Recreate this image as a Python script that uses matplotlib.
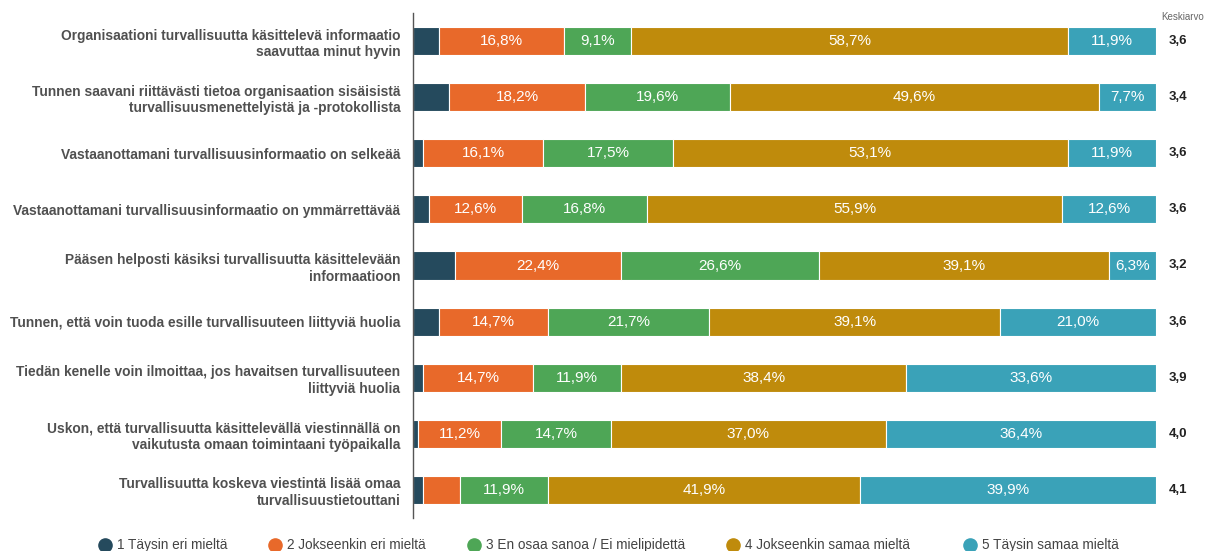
import matplotlib
matplotlib.use("Agg")
import matplotlib.pyplot as plt
from matplotlib.lines import Line2D
import numpy as np

plt.rcParams['font.family'] = ['Liberation Sans', 'DejaVu Sans']

questions = [
    "Organisaationi turvallisuutta käsittelevä informaatio\nsaavuttaa minut hyvin",
    "Tunnen saavani riittävästi tietoa organisaation sisäisistä\nturvallisuusmenettelyistä ja -protokollista",
    "Vastaanottamani turvallisuusinformaatio on selkeää",
    "Vastaanottamani turvallisuusinformaatio on ymmärrettävää",
    "Pääsen helposti käsiksi turvallisuutta käsittelevään\ninformaatioon",
    "Tunnen, että voin tuoda esille turvallisuuteen liittyviä huolia",
    "Tiedän kenelle voin ilmoittaa, jos havaitsen turvallisuuteen\nliittyviä huolia",
    "Uskon, että turvallisuutta käsittelevällä viestinnällä on\nvaikutusta omaan toimintaani työpaikalla",
    "Turvallisuutta koskeva viestintä lisää omaa\nturvallisuustietouttani",
]
categories = ["1 Täysin eri mieltä", "2 Jokseenkin eri mieltä",
              "3 En osaa sanoa / Ei mielipidettä", "4 Jokseenkin samaa mieltä",
              "5 Täysin samaa mieltä"]
s1 = [3.5, 4.9, 1.4, 2.1, 5.6, 3.5, 1.4, 0.7, 1.4]
s2 = [16.8, 18.2, 16.1, 12.6, 22.4, 14.7, 14.7, 11.2, 4.9]
s3 = [9.1, 19.6, 17.5, 16.8, 26.6, 21.7, 11.9, 14.7, 11.9]
s4 = [58.7, 49.6, 53.1, 55.9, 39.1, 39.1, 38.4, 37.0, 41.9]
s5 = [11.9, 7.7, 11.9, 12.6, 6.3, 21.0, 33.6, 36.4, 39.9]
show_label = [[False]*9, [True]*8 + [False], [True]*9, [True]*9, [True]*9]
means = ["3,6", "3,4", "3,6", "3,6", "3,2", "3,6", "3,9", "4,0", "4,1"]

colors = ["#254a5d", "#e8692a", "#4ea656", "#bf8b0c", "#3aa2b8"]

W, H = 1206, 551
fig = plt.figure(figsize=(W/100, H/100), dpi=100)
ax = fig.add_axes([413/W, 1-518/H, (1156-413)/W, (518-13)/H])

series = [s1, s2, s3, s4, s5]
y = np.arange(len(questions))
left = np.zeros(len(questions))
for k, (vals, col) in enumerate(zip(series, colors)):
    vals = np.array(vals)
    ax.barh(y, vals, left=left, height=0.5, color=col, edgecolor='white', linewidth=0.8)
    for i, v in enumerate(vals):
        if show_label[k][i]:
            ax.text(left[i] + v/2, y[i], f"{v:.1f}%".replace('.', ','),
                    ha='center', va='center', color='white', fontsize=11)
    left += vals

ax.set_xlim(0, 100)
ax.set_ylim(8.5, -0.5)
for sp in ['top', 'right', 'bottom']:
    ax.spines[sp].set_visible(False)
ax.spines['left'].set_color('#555555')
ax.spines['left'].set_linewidth(1.0)
ax.set_xticks([])
ax.set_yticks(y)
ax.set_yticklabels(questions, fontsize=9.9, color='#505050', ha='right',
                   multialignment='right', fontweight='bold', linespacing=1.25)
ax.tick_params(axis='y', length=0, pad=9)

for i, m in enumerate(means):
    ax.text(1.03, y[i], m, transform=ax.get_yaxis_transform(), ha='center',
            va='center', fontsize=9.5, fontweight='bold', color='#222222')
fig.text(1183/W, 1-17/H, "Keskiarvo", ha='center', va='center',
         fontsize=7, color='#666666')

# legend
leg_x = [105, 275, 474, 733, 970]
leg_y = 1 - 545/H
for xpix, col, lab in zip(leg_x, colors, categories):
    fig.add_artist(Line2D([xpix/W], [leg_y], marker='o', linestyle='',
                          markersize=9.5, markerfacecolor=col,
                          markeredgecolor=col, transform=fig.transFigure))
    fig.text((xpix + 12)/W, leg_y, lab, ha='left', va='center',
             fontsize=9.8, color='#444444')

fig.savefig("out.png", dpi=100)
